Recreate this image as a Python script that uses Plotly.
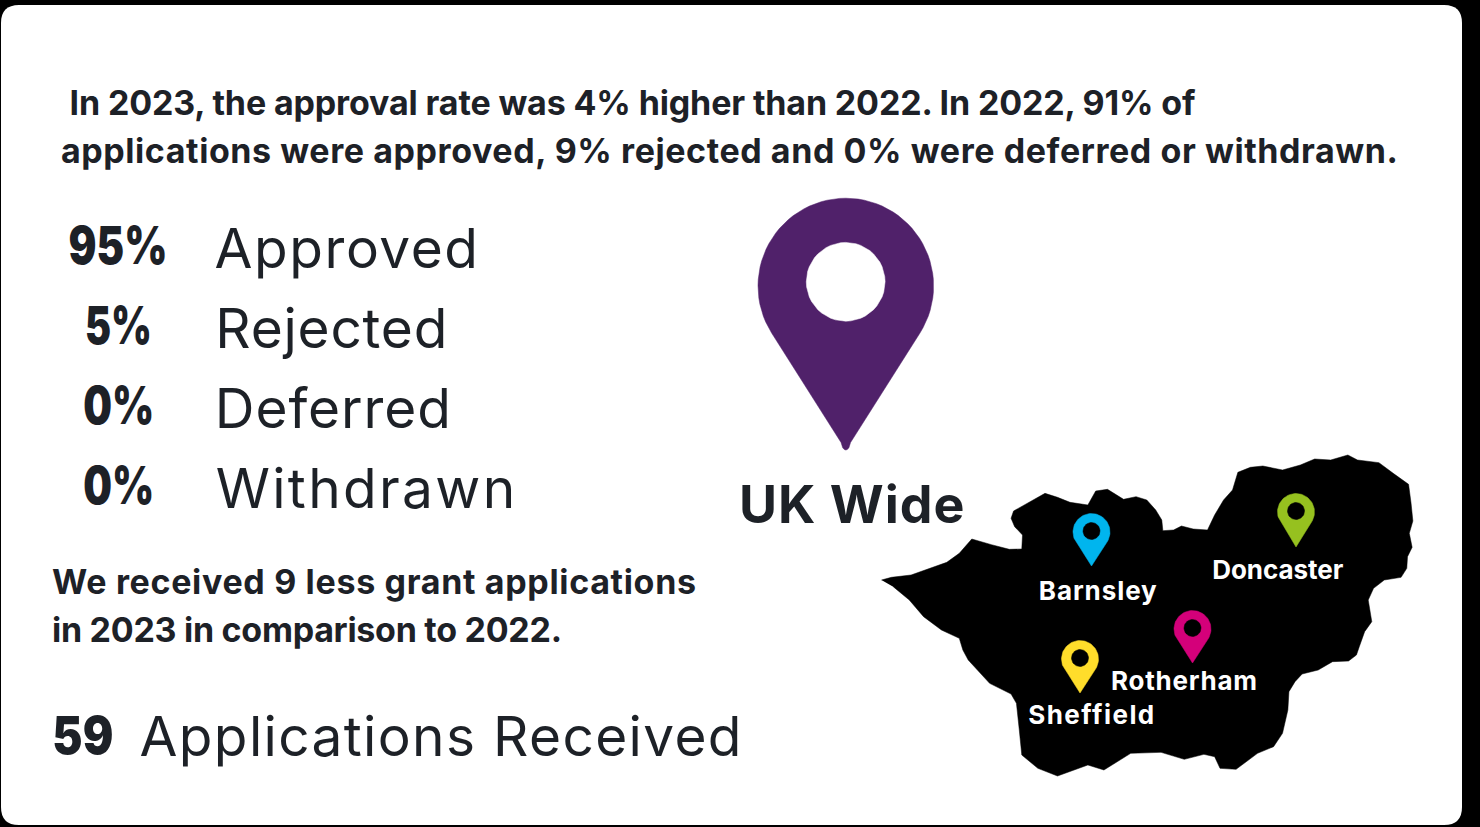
import json
import math
import plotly.graph_objects as go

W, H = 1480, 827
INK = "#1d2127"
FONT = "Inter"

stat_values = ["95%", "5%", "0%", "0%"]
stat_value_span = [(68, 167), (85, 152), (83, 154), (83, 154)]
stat_labels = ["Approved", "Rejected", "Deferred", "Withdrawn"]
stat_label_span = [(214.5, 478), (215, 447), (215, 451), (215.5, 515)]
stat_rows_y = [248, 328, 408, 488]
header_lines = ["In 2023, the approval rate was 4% higher than 2022. In 2022, 91% of",
                "applications were approved, 9% rejected and 0% were deferred or withdrawn."]
header_span = [(70, 1196), (61, 1398)]
note_lines = ["We received 9 less grant applications", "in 2023 in comparison to 2022."]
note_span = [(52, 696), (52, 562)]
received_value = "59"
received_label = "Applications Received"

# South Yorkshire outline (pixels)
region_zx = [32,60,115,165,215,250,285,340,390,425,427,405,395,402,445,490,525,560,610,632,665,690,710,745,775,800,817,820,850,872,905,945,965,990,1015,1030,1065,1100,1155,1205,1245,1290,1338,1365,1425,1465,1508,1515,1520,1510,1518,1505,1503,1487,1440,1410,1395,1405,1385,1370,1362,1340,1295,1255,1210,1190,1173,1170,1155,1130,1085,1025,980,965,935,880,815,730,655,610,525,470,425,418,410,395,335,275,260,250,200,150,110,65]
region_zy = [420,412,405,385,367,340,297,314,328,327,285,260,235,213,187,160,172,187,195,153,148,165,178,170,180,210,240,272,270,258,267,270,225,180,150,97,82,78,90,75,57,60,45,60,68,100,133,190,243,280,322,350,385,412,420,445,480,545,575,620,645,663,665,690,702,725,755,810,880,920,940,988,985,950,943,958,937,940,990,975,1008,985,945,870,790,762,730,660,630,595,570,530,480,440]
region_x = [870 + v / 2.8 for v in region_zx]
region_y = [440 + v / 3.0 for v in region_zy]

towns = ["Barnsley", "Doncaster", "Rotherham", "Sheffield"]
town_span = [(1039, 1157), (1212, 1343), (1111, 1257), (1028, 1154)]
town_label_y = [590, 569, 680, 714]
pin_colors = ["#00b5ee", "#96c11f", "#d4007a", "#ffdd2b"]
pin_cx = [1091.5, 1296, 1192.5, 1080]
pin_cy = [532, 512, 629, 659]
pin_tip = [566, 547, 663, 693]
pin_r = [18.5, 18.5, 18.5, 18.5]
pin_hole = [8.5, 8.5, 8.5, 8.5]


def teardrop(cx, cy, r, tip, n=60, rnd=0.0):
    d = tip - cy
    a = math.acos(r / d)
    slope = math.tan(math.asin(r / d))
    xs, ys = [], []
    if rnd:
        xs += [cx, cx - rnd * 0.3, cx - rnd * 0.62, cx - rnd * slope * 1.5]
        ys += [tip, tip - rnd * 0.1, tip - rnd * 0.45, tip - rnd * 1.5]
    else:
        xs, ys = [cx], [tip]
    for i in range(n + 1):
        t = a + (2 * math.pi - 2 * a) * i / n
        xs.append(cx - r * math.sin(t))
        ys.append(cy + r * math.cos(t))
    if rnd:
        xs += [cx + rnd * slope * 1.5, cx + rnd * 0.62, cx + rnd * 0.3, cx]
        ys += [tip - rnd * 1.5, tip - rnd * 0.45, tip - rnd * 0.1, tip]
    else:
        xs.append(cx)
        ys.append(tip)
    return xs, ys


def circle(cx, cy, r, n=48):
    return ([cx + r * math.cos(2 * math.pi * i / n) for i in range(n + 1)],
            [cy + r * math.sin(2 * math.pi * i / n) for i in range(n + 1)])


def area(xs, ys, color):
    return go.Scatter(x=xs, y=ys, mode="lines", fill="toself", fillcolor=color,
                      line=dict(color=color, width=0.5), hoverinfo="skip", showlegend=False)


fig = go.Figure()
fig.add_trace(area(region_x, region_y, "#000000"))
lx, ly = teardrop(845.8, 286, 87.8, 450, rnd=5)
fig.add_trace(area(lx, ly, "#50216a"))
hx, hy = circle(845.7, 281.8, 39.4)
fig.add_trace(area(hx, hy, "#ffffff"))
for c, x, y, t, r, h in zip(pin_colors, pin_cx, pin_cy, pin_tip, pin_r, pin_hole):
    px, py = teardrop(x, y, r, t)
    fig.add_trace(area(px, py, c))
    qx, qy = circle(x, y - 1, h)
    fig.add_trace(area(qx, qy, "#000000"))

text_widths = []
text_squeeze = []


def text(s, span, y, size, weight=400, color=INK, squeeze=False):
    text_widths.append(span[1] - span[0])
    text_squeeze.append(squeeze)
    fig.add_annotation(x=(span[0] + span[1]) / 2, y=y, text=s, showarrow=False, xanchor="center",
                       yanchor="middle", xref="x", yref="y", borderpad=0,
                       font=dict(family=FONT, size=size, color=color, weight=weight))


text(header_lines[0], header_span[0], 102.5, 34, 700)
text(header_lines[1], header_span[1], 150.5, 34, 700)
for v, vs, l, ls, y in zip(stat_values, stat_value_span, stat_labels, stat_label_span, stat_rows_y):
    text(v, vs, y - 2.5, 52, 900, squeeze=True)
    text(l, ls, y, 55, 400)
text(note_lines[0], note_span[0], 581.5, 34, 700)
text(note_lines[1], note_span[1], 629.5, 34, 700)
text(received_value, (52, 113), 735.5, 52, 900, squeeze=True)
text(received_label, (139, 741), 736, 55, 400)
text("UK Wide", (739.5, 965), 504, 52, 700)
for name, sp, y in zip(towns, town_span, town_label_y):
    text(name, sp, y, 26, 700, color="#ffffff")

fig.update_layout(
    width=W, height=H, margin=dict(l=0, r=0, t=0, b=0),
    paper_bgcolor="#000000", plot_bgcolor="#000000", showlegend=False,
    xaxis=dict(range=[0, W], visible=False, fixedrange=True),
    yaxis=dict(range=[H, 0], visible=False, fixedrange=True),
    shapes=[dict(type="path", layer="below", xref="x", yref="y", fillcolor="#ffffff", line=dict(width=0),
                 path="M 19 5 H 1444 Q 1462 5 1462 23 V 807 Q 1462 825 1444 825 H 19 Q 1 825 1 807 V 23 Q 1 5 19 5 Z")],
)
fit = """
document.body.style.margin='0';document.body.style.overflow='hidden';
var widths=%s, squeeze=%s;
document.querySelectorAll('.annotation[data-index]').forEach(function(g){
  var t=g.querySelector('.annotation-text'); var i=+g.getAttribute('data-index');
  var n=t.textContent.length; var w=t.getComputedTextLength();
  if(squeeze[i]){
    var s=widths[i]/w, cx=parseFloat(t.getAttribute('x'))||0;
    t.setAttribute('transform','translate('+(cx*(1-s))+',0) scale('+s+',1)');
  } else {
    var sp=(widths[i]-w)/Math.max(1,n-1);
    t.style.letterSpacing=sp+'px';
    t.setAttribute('dx',sp/2);
  }
});
""" % (json.dumps(text_widths), json.dumps(text_squeeze))
fig.write_html("out.html", config={"displayModeBar": False}, post_script=fit)
